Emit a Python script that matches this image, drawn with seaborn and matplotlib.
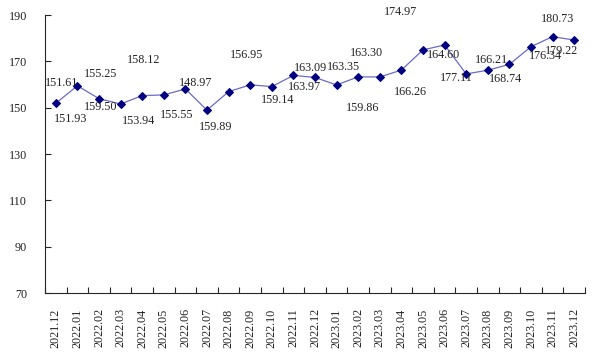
import matplotlib
matplotlib.use("Agg")
import matplotlib.pyplot as plt
import seaborn as sns
import numpy as np

# ---- data ----
months = ["2021.12",
          "2022.01", "2022.02", "2022.03", "2022.04", "2022.05", "2022.06",
          "2022.07", "2022.08", "2022.09", "2022.10", "2022.11", "2022.12",
          "2023.01", "2023.02", "2023.03", "2023.04", "2023.05", "2023.06",
          "2023.07", "2023.08", "2023.09", "2023.10", "2023.11", "2023.12"]
values = [151.93, 159.50, 153.94, 151.61, 155.25, 155.55, 158.12,
          148.97, 156.95, 159.89, 159.14, 163.97, 163.09,
          159.86, 163.35, 163.30, 166.26, 174.97, 177.11,
          164.60, 166.21, 168.74, 176.34, 180.73, 179.22]

# label texts as they sit in the original (they drift away from their points)
label_text = ["151.61", "151.93", "155.25", "159.50", "158.12", "153.94",
              "155.55", "148.97", "159.89", "156.95", "159.14", "163.09",
              "163.97", "163.35", "159.86", "163.30", "174.97", "166.26",
              "164.60", "177.11", "166.21", "168.74", "176.34", "180.73",
              "179.22"]
# where each label centre sits, in data coords (category index, value)
label_x = [0.29, 0.70, 2.09, 2.09, 4.08, 3.81, 5.61, 6.49, 7.42, 8.85,
           10.29, 11.77, 11.49, 13.34, 14.22, 14.36, 15.94, 16.40, 17.93,
           18.53, 20.15, 20.84, 22.69, 23.25, 23.39]
label_y = [160.6, 145.1, 164.5, 150.3, 170.6, 144.3, 146.8, 160.6, 141.7,
           172.7, 153.3, 167.1, 158.9, 167.6, 149.9, 173.6, 191.3, 156.8,
           172.7, 162.8, 170.6, 162.4, 172.3, 188.3, 174.5]

yticks = [70, 90, 110, 130, 150, 170, 190]

# ---- style ----
sns.set_style("ticks")
plt.rcParams['font.family'] = ['Liberation Serif', 'DejaVu Serif']
plt.rcParams['font.size'] = 8.7

fig = plt.figure(figsize=(5.96, 3.6), dpi=100)
ax = fig.add_axes([0.0755, 0.186, 0.906, 0.772])

xs = np.arange(len(months))
sns.lineplot(x=xs, y=values, ax=ax, color="#6a6ac8", linewidth=0.9,
             marker="D", markersize=3.8, markerfacecolor="#000080",
             markeredgecolor="#000080")

for t, lx, ly in zip(label_text, label_x, label_y):
    ax.text(lx, ly, t, ha="center", va="center", fontsize=8.7,
            color="#222222", clip_on=False)

ax.set_xlim(-0.5, len(months) - 0.5)
ax.set_ylim(70, 190)
ax.set_yticks(yticks)
ax.set_xticks(xs)
ax.set_xticklabels(months, rotation=90)
ax.set_xticks(np.arange(-0.5, len(months)), minor=True)
ax.tick_params(axis="x", which="major", length=0, pad=11)
ax.tick_params(axis="x", which="minor", direction="in", length=4, width=0.8)
ax.tick_params(axis="y", direction="in", length=4, width=0.8, pad=13)
for lab in ax.get_xticklabels() + ax.get_yticklabels():
    lab.set_color("#222222")

sns.despine(ax=ax)
ax.spines["left"].set_linewidth(0.8)
ax.spines["bottom"].set_linewidth(0.8)
ax.set_xlabel("")
ax.set_ylabel("")

fig.savefig("out.png", dpi=100)
